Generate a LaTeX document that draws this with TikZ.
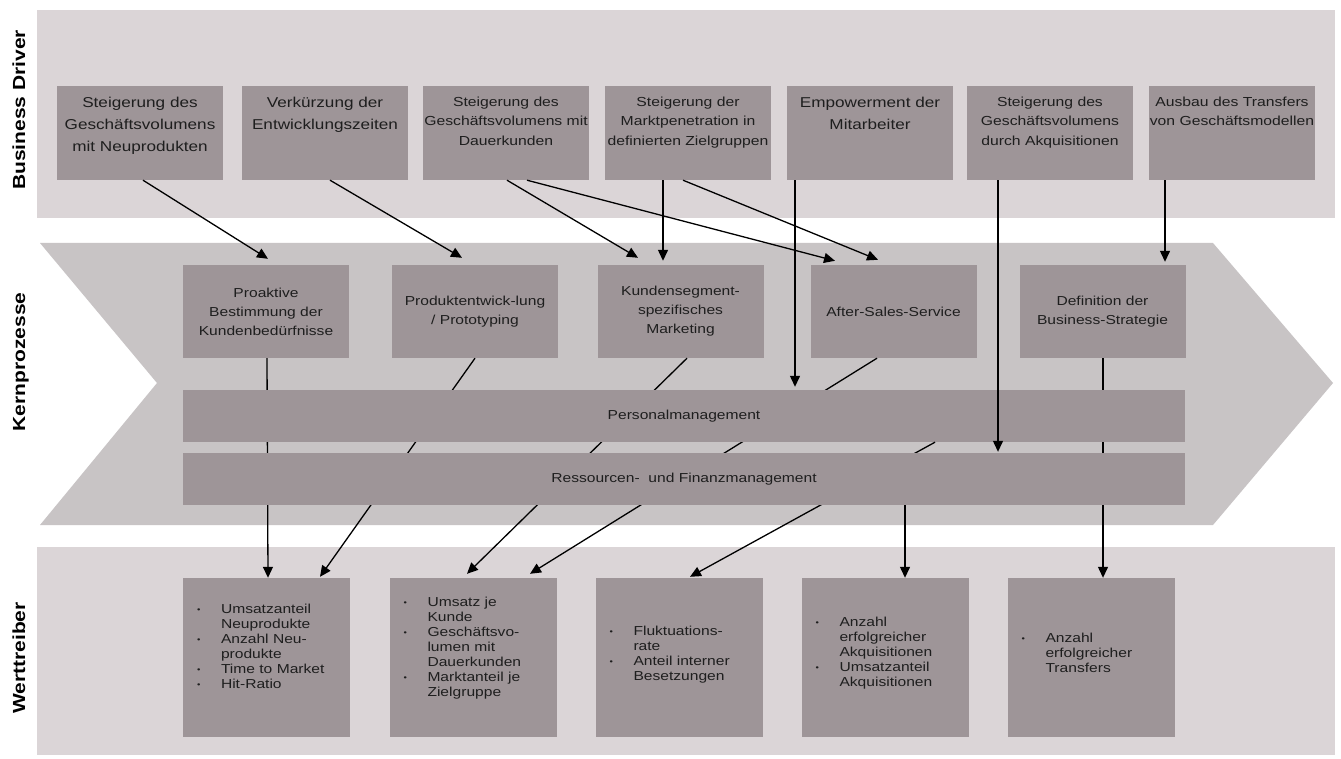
\documentclass[tikz,border=0pt]{standalone}
\usepackage{fontspec}
\setmainfont{Liberation Sans}[FakeStretch=1.2]
\usetikzlibrary{arrows.meta,calc}

\definecolor{bandcol}{HTML}{DBD5D7}
\definecolor{chevcol}{HTML}{C8C4C5}
\definecolor{boxcol}{HTML}{9E9598}
\definecolor{inkcol}{HTML}{1E1E1E}

% font sizes
\newcommand\fbig{\fontsize{14.3}{22}\selectfont}
\newcommand\fsmall{\fontsize{13.1}{19.5}\selectfont}
\newcommand\fmid{\fontsize{13}{19}\selectfont}
\newcommand\flist{\fontsize{13}{15}\selectfont}
\newcommand\fside{\fontsize{17.5}{20}\selectfont\bfseries}
% bullet list helpers
\newcommand\bul{\makebox[24pt][l]{\raisebox{1pt}{\fontsize{8}{8}\selectfont\textbullet}}}
\newcommand\ind{\hspace*{24pt}}

\tikzset{
  band/.style={fill=bandcol, draw=none},
  chevron/.style={fill=chevcol, draw=none},
  box/.style={fill=boxcol, draw=none, inner sep=0pt, text=inkcol},
  drvbox/.style={box, minimum width=166, minimum height=94},
  procbox/.style={box, minimum width=166, minimum height=93, align=center, font=\fmid},
  barbox/.style={box, minimum width=1002, minimum height=52, font=\fmid},
  valbox/.style={box, minimum width=167, minimum height=159},
  drvtext/.style={anchor=north, inner sep=0pt, align=center, text=inkcol},
  valtext/.style={anchor=west, inner sep=0pt, align=left, text=inkcol, font=\flist},
  side/.style={rotate=90, anchor=base, inner sep=0pt, font=\fside, text=black},
  link/.style={draw=black, line width=1.3pt, -{Triangle[width=10pt,length=11pt]}},
}

\begin{document}
\begin{tikzpicture}[x=1pt,y=-1pt]
\fill[white] (0,0) rectangle (1341,759);
\useasboundingbox (0,0) rectangle (1341,759);

% bands
\fill[band] (37,10) rectangle (1335,218);
\fill[band] (37,547) rectangle (1335,755);
\fill[chevron] (40,243) -- (1213,243) -- (1333,383) -- (1213,525) -- (40,525) -- (157,383) -- cycle;

% side labels
\node[side] (lbd) at (25,110) {Business Driver};
\node[side] (lkp) at (25,362) {Kernprozesse};
\node[side] (lwt) at (25,658) {Werttreiber};

% business drivers
\node[drvbox] (d1) at (140,133) {};
\node[drvbox] (d2) at (325,133) {};
\node[drvbox] (d3) at (506,133) {};
\node[drvbox] (d4) at (688,133) {};
\node[drvbox] (d5) at (870,133) {};
\node[drvbox] (d6) at (1050,133) {};
\node[drvbox] (d7) at (1232,133) {};
\node[drvtext, font=\fbig] (d1t) at ([yshift=-11]d1.north) {Steigerung des\\Geschäftsvolumens\\mit Neuprodukten};
\node[drvtext, font=\fbig] (d2t) at ([yshift=-11]d2.north) {Verkürzung der\\Entwicklungszeiten};
\node[drvtext, font=\fsmall] (d3t) at ([yshift=-11]d3.north) {Steigerung des\\Geschäftsvolumens mit\\Dauerkunden};
\node[drvtext, font=\fsmall] (d4t) at ([yshift=-11]d4.north) {Steigerung der\\Marktpenetration in\\definierten Zielgruppen};
\node[drvtext, font=\fbig] (d5t) at ([yshift=-11]d5.north) {Empowerment der\\Mitarbeiter};
\node[drvtext, font=\fsmall] (d6t) at ([yshift=-11]d6.north) {Steigerung des\\Geschäftsvolumens\\durch Akquisitionen};
\node[drvtext, font=\fsmall] (d7t) at ([yshift=-11]d7.north) {Ausbau des Transfers\\von Geschäftsmodellen};

% core processes
\node[procbox] (p1) at (266,311.5) {Proaktive\\Bestimmung der\\Kundenbedürfnisse};
\node[procbox] (p2) at (475,311.5) {Produktentwick-lung\\/ Prototyping};
\node[procbox] (p3) at (680.5,311.5) {Kundensegment-\\spezifisches\\Marketing};
\node[procbox] (p4) at (893.5,311.5) {After-Sales-Service};
\node[procbox] (p5) at (1102.5,311.5) {Definition der\\Business-Strategie};

% value drivers
\node[valbox] (w1) at (266.5,657.5) {};
\node[valbox] (w2) at (473,657.5) {};
\node[valbox] (w3) at (679,657.5) {};
\node[valbox] (w4) at (885,657.5) {};
\node[valbox] (w5) at (1091,657.5) {};

% links running behind the support bars
\draw[link] ([xshift=1]p1.south) -- ([xshift=1.5]w1.north);
\draw[link] (p2.south) -- ([xshift=53.5,yshift=1]w1.north);
\draw[link] ([xshift=6.5]p3.south) -- ([xshift=-6,yshift=4]w2.north);
\draw[link] ([xshift=-16.5]p4.south) -- ([xshift=57,yshift=4]w2.north);
\draw[link] ([xshift=0.5]p5.south) -- ([xshift=12]w5.north);

% support processes
\node[barbox] (pm) at (684,416) {Personalmanagement};
\draw[link] ([xshift=251]pm.south) -- ([xshift=11,yshift=1]w3.north);
\node[barbox] (rf) at (684,479) {Ressourcen- \ und Finanzmanagement};
\draw[link] ([xshift=221]rf.south) -- ([xshift=20]w4.north);

% value driver texts
\node[valtext] (w1t) at ([xshift=14]w1.west |- 0,646) {\bul Umsatzanteil\\\ind Neuprodukte\\\bul Anzahl Neu-\\\ind produkte\\\bul Time to Market\\\bul Hit-Ratio};
\node[valtext] (w2t) at ([xshift=14]w2.west |- 0,648) {\bul Umsatz je\\\ind Kunde\\\bul Geschäftsvo-\\\ind lumen mit\\\ind Dauerkunden\\\bul Marktanteil je\\\ind Zielgruppe};
\node[valtext] (w3t) at ([xshift=14]w3.west |- 0,655) {\bul Fluktuations-\\\ind rate\\\bul Anteil interner\\\ind Besetzungen};
\node[valtext] (w4t) at ([xshift=14]w4.west |- 0,653) {\bul Anzahl\\\ind erfolgreicher\\\ind Akquisitionen\\\bul Umsatzanteil\\\ind Akquisitionen};
\node[valtext] (w5t) at ([xshift=14]w5.west |- 0,653) {\bul Anzahl\\\ind erfolgreicher\\\ind Transfers};

% links from the business drivers
\draw[link] ([xshift=3]d1.south) -- ([xshift=2,yshift=6]p1.north);
\draw[link] ([xshift=5]d2.south) -- ([xshift=-13,yshift=7]p2.north);
\draw[link] ([xshift=1]d3.south) -- ([xshift=-42.5,yshift=7]p3.north);
\draw[link] ([xshift=21]d3.south) -- ([xshift=-58.5,yshift=4]p4.north);
\draw[link] ([xshift=-25]d4.south) -- ([xshift=-17.5,yshift=4]p3.north);
\draw[link] ([xshift=-5]d4.south) -- ([xshift=-15.5,yshift=5]p4.north);
\draw[link] ([xshift=-75]d5.south) -- ([xshift=111,yshift=3]pm.north);
\draw[link] ([xshift=-52]d6.south) -- ([xshift=314,yshift=1]rf.north);
\draw[link] ([xshift=-67]d7.south) -- ([xshift=62.5,yshift=3]p5.north);
\end{tikzpicture}
\end{document}
